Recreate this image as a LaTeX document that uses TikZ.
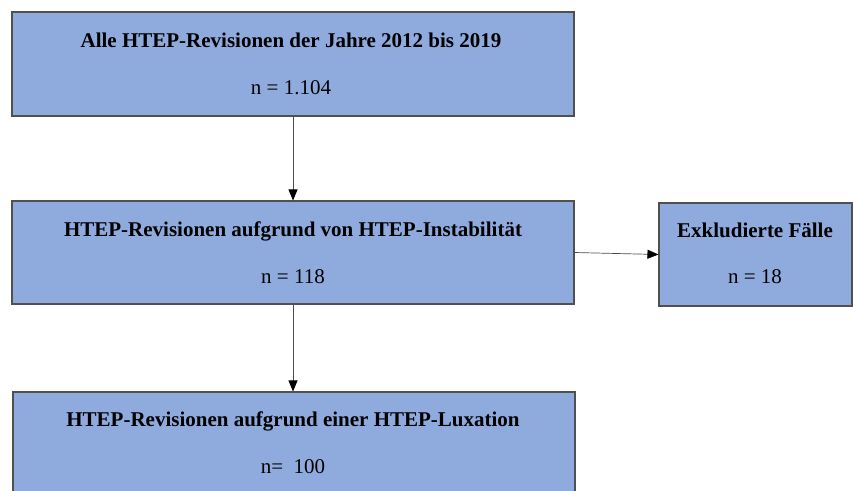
\documentclass[tikz,border=0pt]{standalone}
\usepackage{fontspec}
\setmainfont{Liberation Serif}
\usetikzlibrary{arrows.meta}
\definecolor{boxfill}{RGB}{143,170,220}
\definecolor{boxline}{RGB}{80,80,80}
\tikzset{
  box/.style={draw=boxline, line width=1.1pt, fill=boxfill, inner sep=0pt},
  ttl/.style={anchor=base, inner sep=0pt, font=\fontsize{21pt}{25pt}\selectfont\bfseries},
  num/.style={anchor=base, inner sep=0pt, font=\fontsize{21pt}{25pt}\selectfont},
  arr/.style={draw=black!70, line width=0.7pt, -{Triangle[length=11pt,width=9pt,fill=black,color=black]}}
}
\begin{document}
\begin{tikzpicture}[x=1pt,y=-1pt]
\useasboundingbox (0,0) rectangle (853,490);
% boxes
\node[box, minimum width=562pt, minimum height=104pt] (b1) at (293,64) {};
\node[box, minimum width=562pt, minimum height=103pt] (b2) at (293,252.5) {};
\node[box, minimum width=193pt, minimum height=103pt] (b3) at (755.5,254.5) {};
\node[box, minimum width=562pt, minimum height=110pt] (b4) at (294,447) {};
% texts
\node[ttl] (t1) at (291,47) {Alle HTEP-Revisionen der Jahre 2012 bis 2019};
\node[num] (n1) at (291,94) {n = 1.104};
\node[ttl] (t2) at (293,236) {HTEP-Revisionen aufgrund von HTEP-Instabilität};
\node[num] (n2) at (293,283) {n = 118};
\node[ttl] (t3) at (755,237) {Exkludierte Fälle};
\node[num] (n3) at (755,283) {n = 18};
\node[ttl] (t4) at (293,426) {HTEP-Revisionen aufgrund einer HTEP-Luxation};
\node[num] (n4) at (293,473) {n=\ \ 100};
% arrows
\draw[arr] (b1.south) -- (b2.north);
\draw[arr] (b2.south) -- (b2.south |- b4.north);
\draw[arr] (b2.east) -- (b3.west);
\end{tikzpicture}
\end{document}
